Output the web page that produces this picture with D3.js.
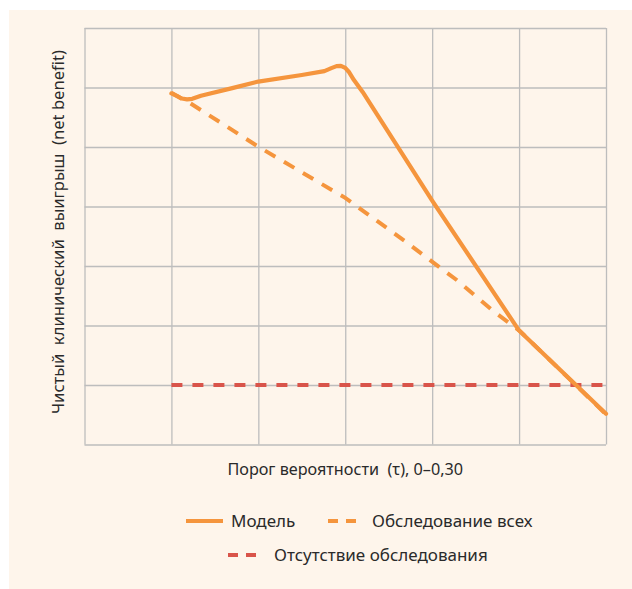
<!DOCTYPE html>
<html>
<head>
<meta charset="utf-8">
<script src="https://cdn.jsdelivr.net/npm/d3@7"></script>
<style>
  html, body { margin: 0; padding: 0; background: #ffffff; }
  svg { display: block; }
  text { font-family: "Noto Sans", "Open Sans", sans-serif; fill: #2a2a2a; white-space: pre; }
</style>
</head>
<body>
<script>
// ---- data ----
const xTicks = [0, 0.05, 0.10, 0.15, 0.20, 0.25, 0.30];
const yTicks = [-0.02, 0, 0.02, 0.04, 0.06, 0.08, 0.10, 0.12];

const modelT  = [0.05, 0.053, 0.056, 0.059, 0.062, 0.067, 0.085, 0.10, 0.125, 0.138, 0.142, 0.145, 0.1475, 0.150, 0.152, 0.155, 0.16, 0.20, 0.25, 0.30];
const modelNB = [0.098, 0.0972, 0.0963, 0.0960, 0.0962, 0.0972, 0.0998, 0.102, 0.1042, 0.1055, 0.1065, 0.1072, 0.1073, 0.1066, 0.1053, 0.1025, 0.0985, 0.0620, 0.0183, -0.0097];

const allT  = [0.05, 0.0606, 0.10, 0.15, 0.1842, 0.2003, 0.2141, 0.2359, 0.2503, 0.2997];
const allNB = [0.0982, 0.0948, 0.0801, 0.0629, 0.0484, 0.0413, 0.0353, 0.0245, 0.0182, -0.0097];

const noneT  = [0.05, 0.30];
const noneNB = [0, 0];

const xTitle = "Порог вероятности  (τ), 0–0,30";
const yTitle = "Чистый  клинический  выигрыш  (net benefit)";
const legendNames = ["Модель", "Обследование всех", "Отсутствие обследования"];

// ---- layout ----
const W = 632, H = 589;
const orange = "#f5953d", red = "#d9544a", grid = "#bdbdbd", cream = "#fef5eb";

const svg = d3.select("body").append("svg").attr("width", W).attr("height", H);
svg.append("rect").attr("x", 9).attr("y", 10).attr("width", W - 9).attr("height", H - 10).attr("fill", cream);

const x = d3.scaleLinear().domain([0, 0.30]).range([84.5, 606]);
const y = d3.scaleLinear().domain([-0.02, 0.12]).range([444.5, 28]);

const g = svg.append("g");

// grid via axes
const xGrid = d3.axisBottom(x).tickValues(xTicks).tickSize(-(y.range()[0] - y.range()[1])).tickFormat("");
const yGrid = d3.axisLeft(y).tickValues(yTicks).tickSize(-(x.range()[1] - x.range()[0])).tickFormat("");
g.append("g").attr("transform", `translate(0,${y.range()[0]})`).call(xGrid)
  .call(s => s.select(".domain").remove())
  .selectAll("line").attr("stroke", grid).attr("stroke-width", 1.3);
g.append("g").attr("transform", `translate(${x.range()[0]},0)`).call(yGrid)
  .call(s => s.select(".domain").remove())
  .selectAll("line").attr("stroke", grid).attr("stroke-width", 1.3);

const line = d3.line().x(d => x(d[0])).y(d => y(d[1]));
const zip = (a, b) => a.map((v, i) => [v, b[i]]);

// no screening
g.append("path").datum(zip(noneT, noneNB)).attr("d", line)
  .attr("fill", "none").attr("stroke", red).attr("stroke-width", 4)
  .attr("stroke-dasharray", "11,10").attr("stroke-linecap", "butt");

// treat all
g.append("path").datum(zip(allT, allNB)).attr("d", line)
  .attr("fill", "none").attr("stroke", orange).attr("stroke-width", 4)
  .attr("stroke-dasharray", "12,10").attr("stroke-linecap", "butt");

// model
g.append("path").datum(zip(modelT, modelNB)).attr("d", line)
  .attr("fill", "none").attr("stroke", orange).attr("stroke-width", 4.2)
  .attr("stroke-linejoin", "round").attr("stroke-linecap", "round");

// titles
svg.append("text").attr("x", (x.range()[0] + x.range()[1]) / 2).attr("y", 475)
  .attr("text-anchor", "middle").attr("font-size", 16.2).text(xTitle);
svg.append("text").attr("transform", "translate(64,232) rotate(-90)")
  .attr("text-anchor", "middle").attr("font-size", 16.6).text(yTitle);

// legend
const leg = svg.append("g");
const items = [
  {name: legendNames[0], color: orange, dash: null, x1: 186, x2: 223, ly: 521, tx: 231},
  {name: legendNames[1], color: orange, dash: "10,8", x1: 328, x2: 363, ly: 521, tx: 372},
  {name: legendNames[2], color: red, dash: "10,8", x1: 228, x2: 264, ly: 555, tx: 274}
];
items.forEach(it => {
  const l = leg.append("line").attr("x1", it.x1).attr("x2", it.x2).attr("y1", it.ly).attr("y2", it.ly)
    .attr("stroke", it.color).attr("stroke-width", 4);
  if (it.dash) l.attr("stroke-dasharray", it.dash);
  leg.append("text").attr("x", it.tx).attr("y", it.ly + 6).attr("font-size", 17).text(it.name);
});
</script>
</body>
</html>
